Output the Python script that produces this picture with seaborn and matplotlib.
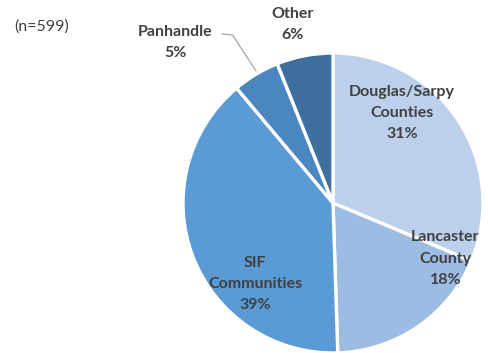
import matplotlib
matplotlib.use("Agg")
import matplotlib.pyplot as plt
import seaborn as sns

sns.set_theme(style="white")
plt.rcParams["font.family"] = ["Lato", "DejaVu Sans"]

regions = ["Douglas/Sarpy\nCounties", "Lancaster\nCounty", "SIF\nCommunities", "Panhandle", "Other"]
shares = [31, 18, 39, 5, 6]
colors = ["#bdd0eb", "#9dbce3", "#5b9bd5", "#4a86c0", "#3f6f9f"]
sample_note = "(n=599)"

# label centres in pie units (radius 1)
label_pos = [(0.46, 0.60), (0.75, -0.37), (-0.52, -0.54), (-1.05, 1.07), (-0.27, 1.19)]

fig = plt.figure(figsize=(4.88, 3.53), dpi=100)
ax = fig.add_axes([183 / 488, 0.0, 300 / 488, 300 / 353])

wedges, _ = ax.pie(
    shares,
    colors=colors,
    startangle=90,
    counterclock=False,
    radius=1.0,
    wedgeprops=dict(edgecolor="white", linewidth=2.4),
)
ax.set_xlim(-1, 1)
ax.set_ylim(-1, 1)
ax.set_aspect("equal")
ax.axis("off")

txt_color = "#404040"
for name, val, (x, y) in zip(regions, shares, label_pos):
    ax.text(x, y, f"{name}\n{val}%", ha="center", va="center",
            fontsize=11.5, fontweight="bold", color=txt_color,
            linespacing=1.65, clip_on=False)

# leader line for the Panhandle slice
ax.plot([-0.74, -0.67, -0.513], [1.127, 1.12, 0.88], color="#a6a6a6",
        linewidth=0.9, clip_on=False)

fig.text(14 / 488, 1 - 27 / 353, sample_note, ha="left", va="center",
         fontsize=11.5, color=txt_color)

fig.savefig("out.png", dpi=100)
